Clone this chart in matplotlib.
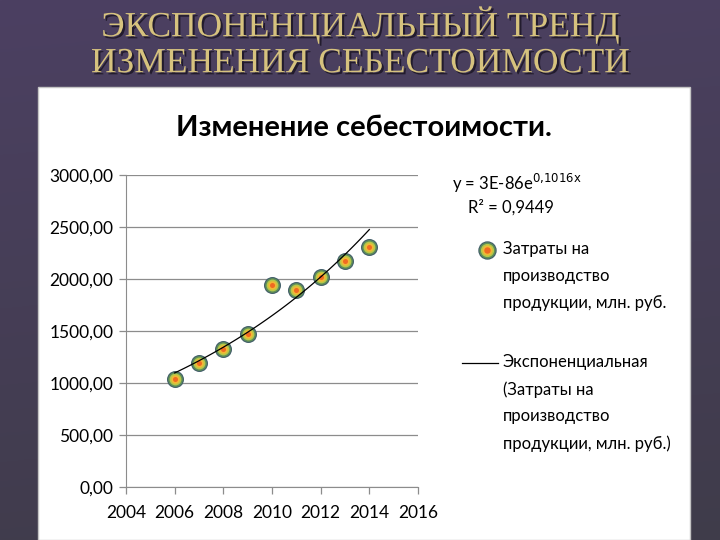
import numpy as np
import matplotlib
matplotlib.use("Agg")
import matplotlib.pyplot as plt
from matplotlib.patches import Rectangle
from matplotlib.lines import Line2D
import matplotlib.patheffects as pe

years = [2006, 2007, 2008, 2009, 2010, 2011, 2012, 2013, 2014]
costs = [1038, 1189, 1324, 1471, 1939, 1894, 2022, 2170, 2311]
xticks = [2004, 2006, 2008, 2010, 2012, 2014, 2016]
yticks = [0, 500, 1000, 1500, 2000, 2500, 3000]
slide_title = "ЭКСПОНЕНЦИАЛЬНЫЙ ТРЕНД\nИЗМЕНЕНИЯ СЕБЕСТОИМОСТИ"
chart_title = "Изменение себестоимости."
series_label = "Затраты на\nпроизводство\nпродукции, млн. руб."
trend_label = "Экспоненциальная\n(Затраты на\nпроизводство\nпродукции, млн. руб.)"
eq_text = r"y = 3E-86e$^{\mathrm{0{,}1016x}}$"
r2_text = "R² = 0,9449"

W, H = 720, 540
fig = plt.figure(figsize=(7.2, 5.4), dpi=100)

# background gradient
bg = fig.add_axes([0, 0, 1, 1], zorder=-10)
ny, nx = 200, 200
yy, xx = np.mgrid[0:1:ny*1j, 0:1:nx*1j]
top = np.array([0x4c, 0x40, 0x62]) / 255
bot = np.array([0x3c, 0x3b, 0x44]) / 255
t = (0.7 * yy + 0.3 * xx * 0.3)[..., None]
img = top * (1 - t) + bot * t
bg.imshow(img, extent=[0, 1, 0, 1], aspect='auto', origin='upper')
bg.set_axis_off()

# white panel
fig.patches.append(Rectangle((38 / W, 0), (690 - 38) / W, (540 - 87) / H,
                             transform=fig.transFigure, facecolor='white',
                             edgecolor='#c4c4c4', linewidth=1.0, zorder=-5))

# slide title
fig.text(0.5, 1 - 43 / H, slide_title, ha='center', va='center',
         fontsize=25.5, family='Liberation Serif', color='#d6c27e',
         linespacing=1.12,
         path_effects=[pe.withSimplePatchShadow(offset=(1.5, -1.5), shadow_rgbFace='#1e1828', alpha=0.9)])

# chart title
fig.text(364 / W, 1 - 128 / H, chart_title, ha='center', va='center',
         fontsize=21, family='Lato', fontweight='bold', color='black')

ax = fig.add_axes([126 / W, 1 - 487 / H, (418 - 126) / W, (487 - 175) / H])
ax.set_xlim(2004, 2016)
ax.set_ylim(0, 3000)
ax.set_xticks(xticks)
ax.set_yticks(yticks)
ax.set_xticklabels([str(v) for v in xticks], family='Lato', fontsize=12.5)
ax.set_yticklabels([f"{v:.2f}".replace('.', ',') for v in yticks], family='Lato', fontsize=12.5)
ax.yaxis.grid(True, color='#8c8c8c', linewidth=0.9)
ax.set_axisbelow(True)
for s in ['top', 'right']:
    ax.spines[s].set_visible(False)
for s in ['left', 'bottom']:
    ax.spines[s].set_color('#8c8c8c')
ax.tick_params(axis='both', colors='#8c8c8c', labelcolor='black', length=5, width=0.9)
ax.tick_params(axis='y', pad=4)
ax.tick_params(axis='x', pad=8)

# exponential trend fit
b, a = np.polyfit(years, np.log(costs), 1)
xt = np.linspace(years[0], years[-1], 100)
ax.plot(xt, np.exp(a + b * xt), color='black', linewidth=0.9, zorder=5)

# gradient-like markers
layers = [(150, '#44606a'), (112, '#5f8f58'), (72, '#b8c848'), (38, '#f2b835'), (13, '#f06a22')]
for s, c in layers:
    ax.scatter(years, costs, s=s, color=c, linewidths=0, zorder=4)

# equation text
fig.text(452 / W, 1 - 183 / H, eq_text, ha='left', va='center', fontsize=12, family='Lato')
fig.text(468 / W, 1 - 207 / H, r2_text, ha='left', va='center', fontsize=12, family='Lato')

# legend (manual)
lx, ly = 487 / W, 1 - 250 / H
for s, c in layers:
    fig.add_artist(Line2D([lx], [ly], marker='o', markersize=np.sqrt(s),
                          color=c, linestyle='none', transform=fig.transFigure))
fig.text(503 / W, 1 - 241 / H, series_label, ha='left', va='top', fontsize=12,
         family='Lato', linespacing=1.85)
fig.add_artist(Line2D([462 / W, 498 / W], [1 - 363 / H, 1 - 363 / H], color='black',
                      linewidth=0.9, transform=fig.transFigure))
fig.text(503 / W, 1 - 354 / H, trend_label, ha='left', va='top', fontsize=12,
         family='Lato', linespacing=1.82)

fig.savefig("out.png", dpi=100)
